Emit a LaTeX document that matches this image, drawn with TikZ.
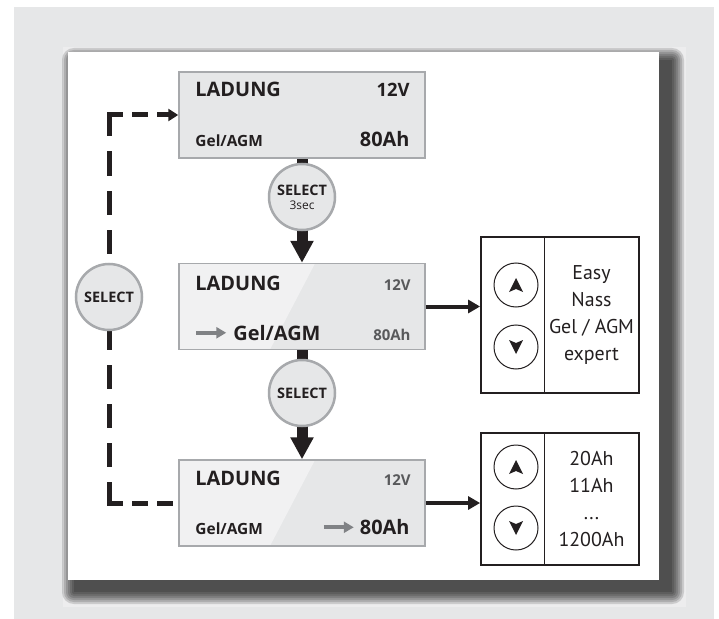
\documentclass[tikz,border=0pt]{standalone}
\usepackage{fontspec}
\setmainfont{PT Sans}
\newfontfamily\lcdfont{Open Sans}
\usetikzlibrary{arrows.meta, positioning, calc}
\definecolor{bggray}{RGB}{230,231,232}
\definecolor{framegray}{RGB}{237,237,238}
\definecolor{lcdfill}{RGB}{230,231,232}
\definecolor{lcdlight}{RGB}{241,241,242}
\definecolor{lcdedge}{RGB}{167,169,172}
\definecolor{inkblack}{RGB}{35,31,32}
\definecolor{dimgray}{RGB}{88,89,91}
\definecolor{arrowgray}{RGB}{128,130,133}
\pgfdeclarelayer{back}
\pgfdeclarelayer{links}
\pgfsetlayers{back,links,main}

\begin{document}
\begin{tikzpicture}[
    x=1bp, y=-1bp,
    lcd/.style={rectangle, draw=lcdedge, line width=1.5bp, fill=lcdfill, minimum width=246bp, minimum height=86bp},
    sheen/.style={path picture={\fill[lcdlight] (path picture bounding box.north west) -- ++(136,0) -- ($(path picture bounding box.south west)+(91,0)$) -- (path picture bounding box.south west) -- cycle;}},
    bigtxt/.style={font=\lcdfont\fontsize{20}{24}\selectfont\bfseries, text=inkblack, inner sep=0pt},
    midtxt/.style={font=\lcdfont\fontsize{18.5}{22}\selectfont\bfseries, text=inkblack, inner sep=0pt},
    smalltxt/.style={font=\lcdfont\fontsize{15.5}{18}\selectfont\bfseries, text=inkblack, inner sep=0pt},
    dimtxt/.style={font=\lcdfont\fontsize{15}{18}\selectfont\bfseries, text=dimgray, inner sep=0pt},
    selbtn/.style={circle, draw=lcdedge, line width=2.5bp, fill=lcdfill, minimum size=66bp, inner sep=0pt, align=center, font=\lcdfont\fontsize{14.5}{13}\selectfont\bfseries, text=inkblack},
    optbox/.style={rectangle, draw=inkblack, line width=1.8bp, fill=white, minimum width=158bp},
    keybtn/.style={circle, draw=inkblack, line width=1bp, minimum size=44bp, inner sep=0pt},
    opttext/.style={align=center, font=\fontsize{20}{27}\selectfont, text=inkblack, inner sep=0pt},
    flow/.style={line width=11bp, inkblack},
    flowarrow/.style={flow, -{Triangle[length=22bp, width=22bp]}},
    sidearrow/.style={line width=4bp, inkblack, -{Triangle[length=12bp, width=13bp]}},
    grayarrow/.style={line width=4bp, arrowgray, -{Triangle[length=10bp, width=11bp]}},
    dashh/.style={line width=5bp, inkblack, line cap=rect, dash pattern=on 11bp off 14bp},
    dashv/.style={line width=5bp, inkblack, line cap=rect, dash pattern=on 19bp off 20bp}
]
\useasboundingbox (0,0) rectangle (719,619);

% Panel
\begin{pgfonlayer}{back}
\fill[white] (0,0) rectangle (719,619);
\fill[bggray] (14,7) rectangle (714,619);
\fill[framegray] (63,47) rectangle (686,607);
\foreach \r in {12,10,...,0}
  \fill[black, opacity=0.14, rounded corners=\r pt] ({74-\r},{60-\r}) rectangle ({672+\r},{592+\r});
\fill[white] (68,52) rectangle (659,580);
\end{pgfonlayer}

% Display states
\node[lcd] (b1) at (302,115) {};
\node[lcd, sheen, below=104bp of b1] (b2) {};
\node[lcd, sheen, below=109bp of b2] (b3) {};

% State 1
\node[bigtxt, anchor=base west] (lad1) at ($(b1.north west)+(17,25)$) {LADUNG};
\node[midtxt, anchor=base east] (volt1) at ($(b1.north east)+(-16,25)$) {12V};
\node[smalltxt, anchor=base west] (type1) at ($(b1.south west)+(17,-12)$) {Gel/AGM};
\node[bigtxt, anchor=base east] (cap1) at ($(b1.south east)+(-16,-12)$) {80Ah};

% State 2
\node[bigtxt, anchor=base west] (lad2) at ($(b2.north west)+(17,28)$) {LADUNG};
\node[dimtxt, anchor=base east] (volt2) at ($(b2.north east)+(-15,28)$) {12V};
\node[bigtxt, anchor=base west] (type2) at ($(b2.south west)+(55,-10)$) {Gel/AGM};
\node[dimtxt, anchor=base east] (cap2) at ($(b2.south east)+(-15,-10)$) {80Ah};
\draw[grayarrow] ([xshift=-37bp]type2.west) -- ([xshift=-7bp]type2.west);

% State 3
\node[bigtxt, anchor=base west] (lad3) at ($(b3.north west)+(17,26)$) {LADUNG};
\node[dimtxt, anchor=base east] (volt3) at ($(b3.north east)+(-15,26)$) {12V};
\node[smalltxt, anchor=base west] (type3) at ($(b3.south west)+(17,-12)$) {Gel/AGM};
\node[bigtxt, anchor=base east] (cap3) at ($(b3.south east)+(-16,-12)$) {80Ah};
\draw[grayarrow] ([xshift=-36bp]cap3.west) -- ([xshift=-6bp]cap3.west);

% Buttons
\node[selbtn] (sel1) at (302,197) {SELECT\\[1bp]{\fontsize{12}{10}\selectfont\mdseries 3sec}};
\node[selbtn] (sel2) at (302,393) {SELECT};
\node[selbtn] (selL) at (109,297) {SELECT};

% Links
\coordinate (cornertop) at (selL |- b1.west);
\coordinate (cornerbot) at (selL |- b3.west);
\begin{pgfonlayer}{links}
\draw[flow] (b1.south) -- (sel1.center);
\draw[flowarrow] (sel1.center) -- (b2.north);
\draw[flow] (b2.south) -- (sel2.center);
\draw[flowarrow] (sel2.center) -- (b3.north);
\draw[dashh] (cornerbot) -- (b3.west);
\draw[dashv] (cornerbot) -- (selL.center);
\draw[dashv] (cornertop) -- (selL.center);
\draw[dashh, -{Triangle[length=10bp, width=12bp]}] (cornertop) -- (b1.west);
\end{pgfonlayer}

% Option lists
\node[optbox, minimum height=156bp] (opt1) at (560,315) {};
\node[optbox, minimum height=132bp] (opt2) at (560,499) {};
\draw[line width=1bp, inkblack] ([xshift=-16bp]opt1.north) -- ([xshift=-16bp]opt1.south);
\draw[line width=1bp, inkblack] ([xshift=-16bp]opt2.north) -- ([xshift=-16bp]opt2.south);
\node[keybtn] (up1) at (516,285) {};
\node[keybtn] (dn1) at (516,347) {};
\node[keybtn] (up2) at (516,467) {};
\node[keybtn] (dn2) at (516,528) {};
\foreach \k in {up1,up2}
  \fill[inkblack] ($(\k.center)+(0,-7)$) -- ++(7,14) -- ++(-7,-3) -- ++(-7,3) -- cycle;
\foreach \k in {dn1,dn2}
  \fill[inkblack] ($(\k.center)+(0,7)$) -- ++(7,-14) -- ++(-7,3) -- ++(-7,-3) -- cycle;
\node[opttext] (list1) at ($(opt1.center)+(31.5,0)$) {Easy\\Nass\\Gel / AGM\\expert};
\node[opttext] (list2) at ($(opt2.center)+(31.5,0)$) {20Ah\\11Ah\\...\\1200Ah};

\draw[sidearrow] (b2.east) -- (b2.east -| opt1.west);
\draw[sidearrow] (b3.east) -- (b3.east -| opt2.west);

\end{tikzpicture}
\end{document}
